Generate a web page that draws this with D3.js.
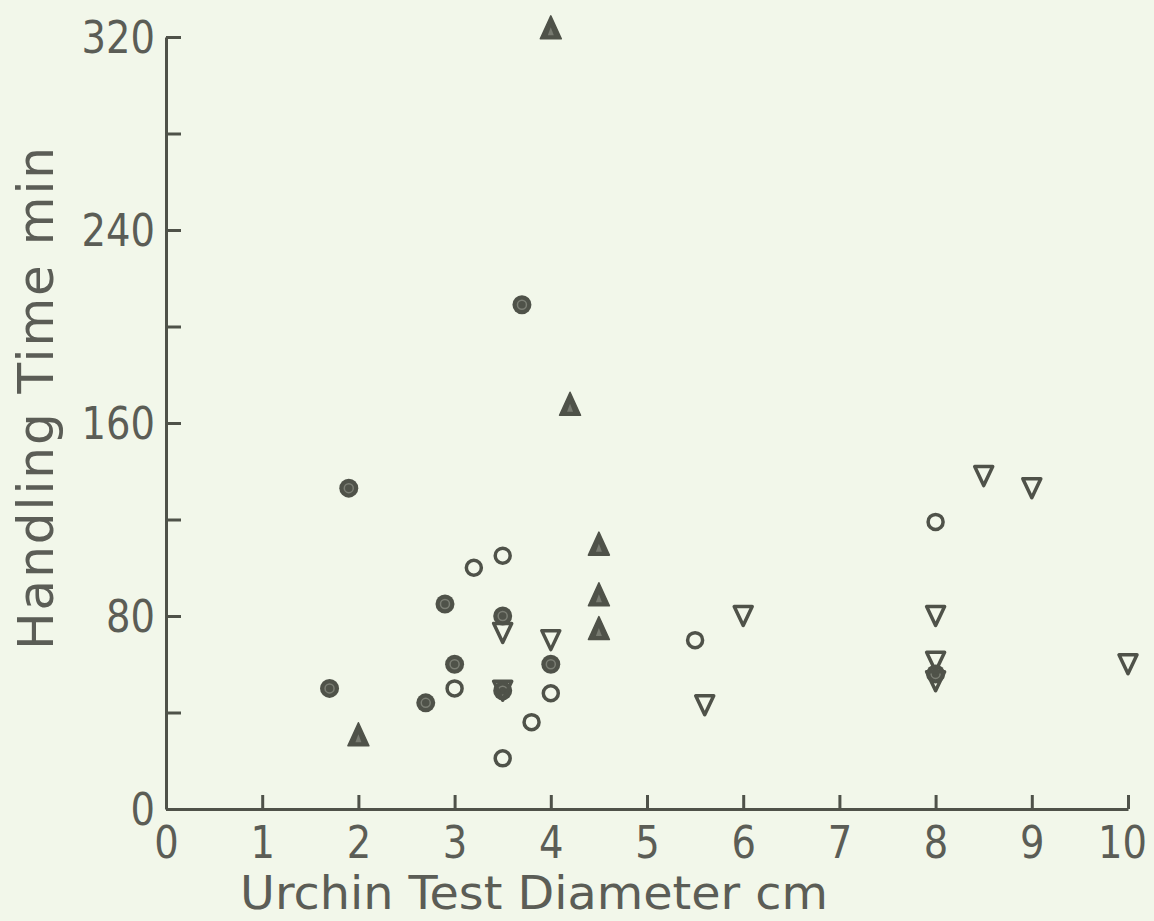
<!DOCTYPE html>
<html>
<head>
<meta charset="utf-8">
<script src="https://cdn.jsdelivr.net/npm/d3@7/dist/d3.min.js"></script>
<style>
  html, body { margin: 0; padding: 0; background: #f2f7ea; }
  svg { display: block; }
</style>
</head>
<body>
<svg id="chart" width="1154" height="921"></svg>
<script>
// Handling time versus urchin test diameter, four prey groups.
// Each point: [test diameter (cm), handling time (min)]
const filledCircles = [
  [1.7, 50], [1.9, 133], [2.7, 44], [2.9, 85], [3.0, 60],
  [3.5, 80], [3.5, 49], [3.7, 209], [4.0, 60], [8.0, 56]
];
const openCircles = [
  [3.0, 50], [3.2, 100], [3.5, 105], [3.5, 21], [3.8, 36],
  [4.0, 48], [5.5, 70], [8.0, 119]
];
const filledTriangles = [
  [2.0, 31], [4.0, 324], [4.2, 168], [4.5, 110], [4.5, 89], [4.5, 75]
];
const openTriangles = [
  [3.5, 73], [3.5, 49], [4.0, 70], [5.6, 43], [6.0, 80],
  [8.0, 80], [8.0, 61], [8.0, 53], [8.5, 138], [9.0, 133], [10.0, 60]
];
const xTicks = [0, 1, 2, 3, 4, 5, 6, 7, 8, 9, 10];
const yTicks = [0, 40, 80, 120, 160, 200, 240, 280, 320];
const yTickLabels = [0, 80, 160, 240, 320];

const ink = "#4f5249";
const textInk = "#5b5d56";
const font = "DejaVu Sans, sans-serif";
const digitWidth = 24.5;   // narrow plotter-style numerals

const svg = d3.select("#chart");

const x = d3.scaleLinear().domain([0, 10]).range([166, 1128]);
const y = d3.scaleLinear().domain([0, 320]).range([809, 37]);

// x axis: ticks point up into the plot
const xAxis = d3.axisBottom(x)
  .tickValues(xTicks)
  .tickFormat(d3.format("d"))
  .tickSizeInner(-14)
  .tickSizeOuter(0)
  .tickPadding(18);

const gx = svg.append("g")
  .attr("transform", `translate(0,${y(0)})`)
  .call(xAxis);

// y axis: ticks point right, labels every 80
const yAxis = d3.axisLeft(y)
  .tickValues(yTicks)
  .tickFormat(d => yTickLabels.includes(d) ? String(d) : "")
  .tickSizeInner(-15)
  .tickSizeOuter(0)
  .tickPadding(11);

const gy = svg.append("g")
  .attr("transform", `translate(${x(0)},0)`)
  .call(yAxis);

[gx, gy].forEach(g => {
  g.select(".domain").attr("stroke", ink).attr("stroke-width", 3);
  g.selectAll(".tick line").attr("stroke", ink).attr("stroke-width", 3);
  g.selectAll(".tick text")
    .attr("fill", textInk)
    .style("font-family", font)
    .style("font-size", "44px")
    .each(function () {
      const t = d3.select(this).text();
      if (t) d3.select(this)
        .attr("textLength", t.length * digitWidth)
        .attr("lengthAdjust", "spacingAndGlyphs");
    });
});
gy.selectAll(".tick text").attr("dy", "0.36em");
// last x label sits a little left of its tick so it stays on the page
gx.selectAll(".tick text").filter(d => d === 10).attr("x", -6);

// axis titles
svg.append("text")
  .attr("x", 240)
  .attr("y", 909)
  .attr("fill", textInk)
  .style("font-family", font)
  .style("font-size", "47px")
  .attr("textLength", 588)
  .attr("lengthAdjust", "spacingAndGlyphs")
  .text("Urchin Test Diameter cm");

svg.append("text")
  .attr("transform", "translate(53,650) rotate(-90)")
  .attr("fill", textInk)
  .style("font-family", font)
  .style("font-size", "50px")
  .attr("textLength", 503)
  .attr("lengthAdjust", "spacing")
  .text("Handling Time min");

// markers
const plot = svg.append("g");

// filled circle with a lighter ring inside
const fc = plot.selectAll(".fc").data(filledCircles).join("g")
  .attr("transform", d => `translate(${x(d[0])},${y(d[1])})`);
fc.append("circle").attr("r", 9.5).attr("fill", ink);
fc.append("circle").attr("r", 4.5).attr("fill", "none")
  .attr("stroke", "#7b7e74").attr("stroke-width", 1.5);

// open circle
plot.selectAll(".oc").data(openCircles).join("circle")
  .attr("cx", d => x(d[0])).attr("cy", d => y(d[1]))
  .attr("r", 7.5)
  .attr("fill", "none").attr("stroke", ink).attr("stroke-width", 3.5);

// filled up-triangle with a lighter core
const upPath = (w, h) => `M0,${-h / 2}L${w / 2},${h / 2}L${-w / 2},${h / 2}Z`;
const ft = plot.selectAll(".ft").data(filledTriangles).join("g")
  .attr("transform", d => `translate(${x(d[0])},${y(d[1])})`);
ft.append("path").attr("d", upPath(21, 23)).attr("fill", ink)
  .attr("stroke", ink).attr("stroke-width", 1.5).attr("stroke-linejoin", "round");
ft.append("path").attr("d", upPath(6, 8)).attr("transform", "translate(0,4)")
  .attr("fill", "#777a70");

// open down-triangle
const downPath = (w, h) => `M${-w / 2},${-h / 2}L${w / 2},${-h / 2}L0,${h / 2}Z`;
plot.selectAll(".ot").data(openTriangles).join("path")
  .attr("transform", d => `translate(${x(d[0])},${y(d[1])})`)
  .attr("d", downPath(18, 19))
  .attr("fill", "none").attr("stroke", ink).attr("stroke-width", 3.5)
  .attr("stroke-linejoin", "round");
</script>
</body>
</html>
